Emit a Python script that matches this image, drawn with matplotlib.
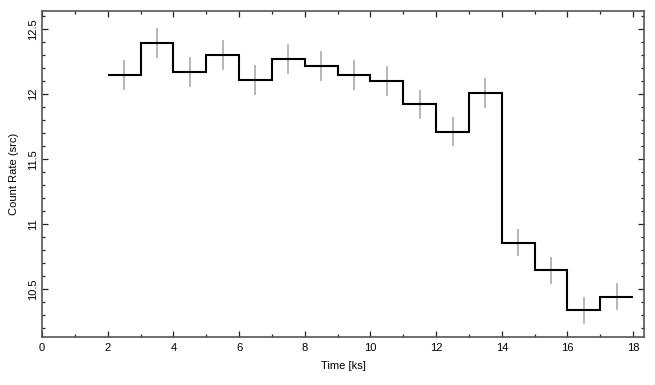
import matplotlib
matplotlib.use("Agg")
import matplotlib.pyplot as plt
from matplotlib.ticker import MultipleLocator
import numpy as np

plt.rcParams['font.family'] = ['Liberation Sans', 'DejaVu Sans']

bin_edges = [2, 3, 4, 5, 6, 7, 8, 9, 10, 11, 12, 13, 14, 15, 16, 17, 18]
rates = [12.148, 12.393, 12.173, 12.303, 12.107, 12.273, 12.217, 12.148,
         12.104, 11.923, 11.711, 12.008, 10.859, 10.645, 10.338, 10.443]
rate_err = [0.115, 0.115, 0.115, 0.115, 0.114, 0.115, 0.114, 0.114,
            0.114, 0.112, 0.111, 0.113, 0.107, 0.106, 0.104, 0.105]

edges = np.array(bin_edges, dtype=float)
centers = (edges[:-1] + edges[1:]) / 2

fig = plt.figure(figsize=(6.55, 3.85), dpi=100)
ax = fig.add_axes([0.0641, 0.1239, 0.9191, 0.8475])

ax.errorbar(centers, rates, yerr=rate_err, xerr=0.5, fmt='none',
            ecolor='#aaaaaa', elinewidth=1.2, capsize=0, zorder=2)
ax.stairs(rates, edges, baseline=None, color='black', linewidth=1.5, zorder=3)

ax.set_xlim(0, 18.33)
ax.set_ylim(10.13, 12.64)
ax.xaxis.set_major_locator(MultipleLocator(2))
ax.xaxis.set_minor_locator(MultipleLocator(1))
ax.yaxis.set_major_locator(MultipleLocator(0.5))
ax.yaxis.set_minor_locator(MultipleLocator(0.1))

ax.tick_params(which='both', direction='in', top=True, right=True,
               color='#222222', labelsize=8)
ax.tick_params(which='major', length=4, width=0.9)
ax.tick_params(which='minor', length=2, width=0.9)
ax.tick_params(axis='x', pad=4)
ax.tick_params(axis='y', pad=3)

ax.set_xticklabels([f"{int(v)}" for v in ax.get_xticks()])
yt = ax.get_yticks()
ax.set_yticks(yt)
ax.set_yticklabels([("%g" % v) for v in yt], rotation=90, va='center')
ax.set_ylim(10.13, 12.64)

for s in ax.spines.values():
    s.set_color('#555555')
    s.set_linewidth(1.2)

ax.set_xlabel('Time [ks]', fontsize=8, labelpad=6)
ax.set_ylabel('Count Rate (src)', fontsize=8, labelpad=6)

fig.savefig('out.png', dpi=100)
